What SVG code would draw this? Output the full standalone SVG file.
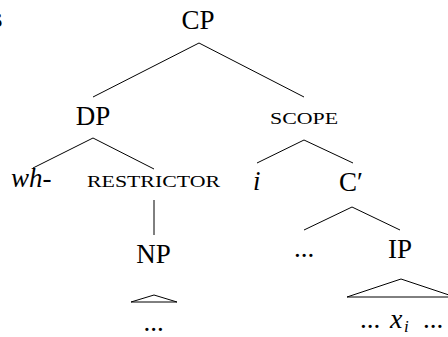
<svg xmlns="http://www.w3.org/2000/svg" width="448" height="337" viewBox="0 0 448 337">
<style>
text{font-family:"Liberation Serif","DejaVu Serif",serif;fill:#000;font-size:27px}
.m{text-anchor:middle}
.it{font-style:italic}
.sc{font-size:16px}
.edge{stroke:#000;stroke-width:1;fill:none}
</style>
<rect width="448" height="337" fill="#fff"/>
<g id="connectors">
<line class="edge" x1="199" y1="43" x2="93" y2="97"/>
<line class="edge" x1="199" y1="43" x2="304" y2="97"/>
<line class="edge" x1="93" y1="138" x2="33" y2="168"/>
<line class="edge" x1="93" y1="138" x2="154" y2="169"/>
<line class="edge" x1="154" y1="200" x2="154" y2="235"/>
<line class="edge" x1="304" y1="140" x2="257" y2="163"/>
<line class="edge" x1="304" y1="140" x2="353" y2="163"/>
<line class="edge" x1="352" y1="207" x2="304" y2="230"/>
<line class="edge" x1="352" y1="207" x2="400" y2="230"/>
<polygon class="edge" points="154,295 131,302 177,302"/>
<polygon class="edge" points="401,279 347,297 455,297"/>
</g>
<g id="label-fragment"><text x="-8" y="27">s</text></g>
<g id="node-CP"><text class="m" x="198" y="29">CP</text></g>
<g id="node-DP"><text class="m" x="93" y="125">DP</text></g>
<g id="node-scope"><text class="sc" x="270" y="124" textLength="68" lengthAdjust="spacingAndGlyphs">SCOPE</text></g>
<g id="node-wh"><text class="it" x="11" y="187">wh-</text></g>
<g id="node-restrictor"><text class="sc" x="87" y="187" textLength="133" lengthAdjust="spacingAndGlyphs">RESTRICTOR</text></g>
<g id="node-i"><text class="it" x="253" y="190">i</text></g>
<g id="node-Cbar"><text class="m" x="351" y="191">C′</text></g>
<g id="node-NP"><text class="m" x="153.5" y="263">NP</text></g>
<g id="node-dots1"><text class="m" x="304" y="257">...</text></g>
<g id="node-IP"><text class="m" x="400" y="258">IP</text></g>
<g id="node-NP-content"><text class="m" x="153.5" y="331">...</text></g>
<g id="node-IP-content"><text x="360" y="328">... <tspan class="it" x="390" style="font-size:28px">x</tspan><tspan class="it" x="404" y="332" style="font-size:17px">i</tspan><tspan x="423" y="328">...</tspan></text></g>
</svg>
